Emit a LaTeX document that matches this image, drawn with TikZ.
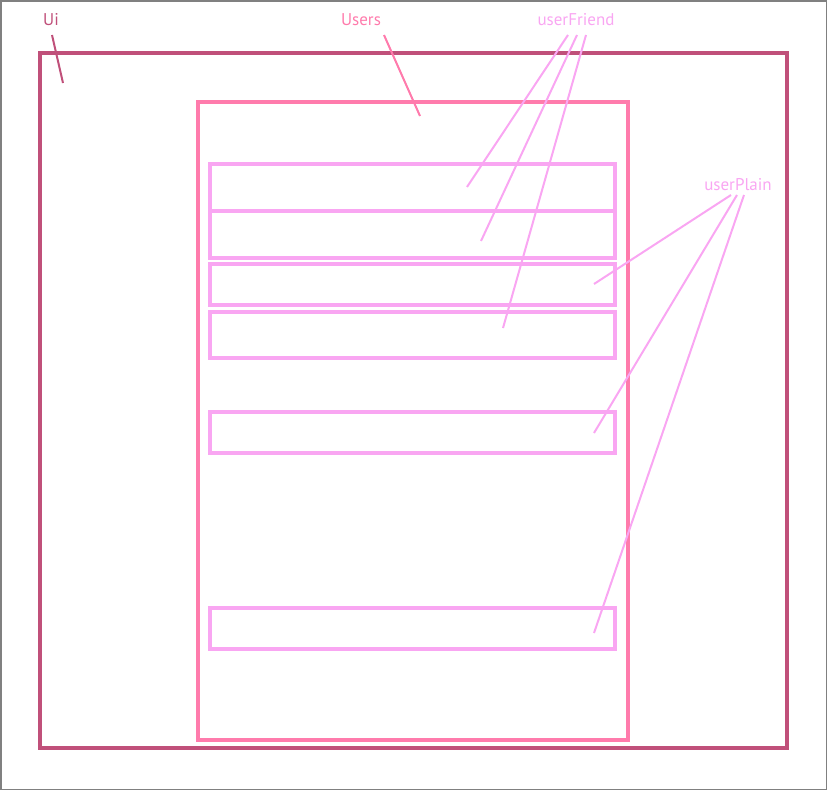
\documentclass[tikz,border=0pt]{standalone}
\usepackage{fontspec}
\setmainfont{PT Sans}
\definecolor{uicol}{HTML}{C0507A}
\definecolor{userscol}{HTML}{FF7BAC}
\definecolor{friendcol}{HTML}{F9A6F2}
\definecolor{framecol}{HTML}{808080}
\begin{document}
\begin{tikzpicture}[x=1pt,y=-1pt,
  lbl/.style={inner sep=0pt,font=\fontsize{17}{19}\selectfont},
  leader/.style={line width=2pt},
  rowbox/.style={draw=friendcol,line width=3.5pt}]
\useasboundingbox (0,0) rectangle (827,790);
\draw[framecol,line width=1.5pt] (0.75,0.75) rectangle (826.25,789.25);
% boxes
\draw[uicol,line width=4pt] (40,53) rectangle (787,748);
\draw[userscol,line width=3.5pt] (198,102) rectangle (628,740);
\draw[rowbox] (210,164) rectangle (615,211);
\draw[rowbox] (210,211) rectangle (615,258);
\draw[rowbox] (210,264) rectangle (615,305);
\draw[rowbox] (210,312) rectangle (615,358);
\draw[rowbox] (210,412) rectangle (615,453);
\draw[rowbox] (210,608) rectangle (615,649);
% labels
\node[lbl,text=uicol] (ui) at (51,20) {Ui};
\node[lbl,text=userscol] (users) at (361,20) {Users};
\node[lbl,text=friendcol] (friend) at (576,20) {userFriend};
\node[lbl,text=friendcol] (plain) at (738,185) {userPlain};
% leader end points
\coordinate (uiA) at (52,35); \coordinate (uiB) at (63,83);
\coordinate (usA) at (384,35); \coordinate (usB) at (420,116);
\coordinate (f1) at (568,35); \coordinate (f1e) at (467,187);
\coordinate (f2) at (577,35); \coordinate (f2e) at (481,241);
\coordinate (f3) at (586,35); \coordinate (f3e) at (503,328);
\coordinate (p1) at (731,195); \coordinate (p1e) at (594,284);
\coordinate (p2) at (737,195); \coordinate (p2e) at (594,433);
\coordinate (p3) at (744,195); \coordinate (p3e) at (594,633);
\draw[leader,uicol] (uiA) -- (uiB);
\draw[leader,userscol] (usA) -- (usB);
\draw[leader,friendcol] (f1) -- (f1e);
\draw[leader,friendcol] (f2) -- (f2e);
\draw[leader,friendcol] (f3) -- (f3e);
\draw[leader,friendcol] (p1) -- (p1e);
\draw[leader,friendcol] (p2) -- (p2e);
\draw[leader,friendcol] (p3) -- (p3e);
\end{tikzpicture}
\end{document}
